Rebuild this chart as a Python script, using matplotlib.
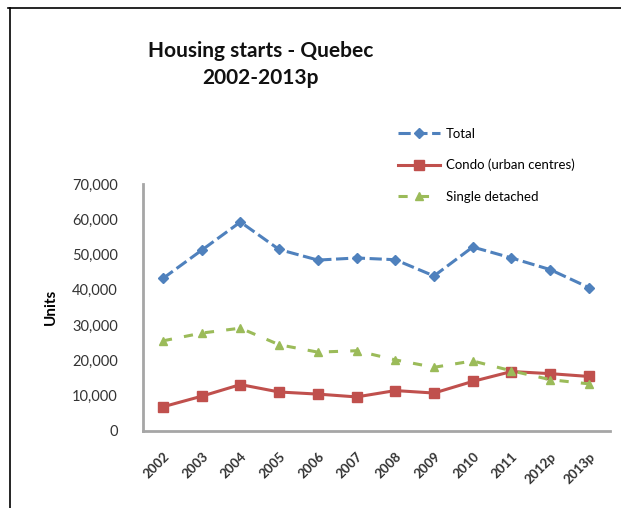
import matplotlib
matplotlib.use("Agg")
import matplotlib.pyplot as plt
from matplotlib.lines import Line2D
from matplotlib.ticker import FuncFormatter

plt.rcParams['font.family'] = ['Lato', 'DejaVu Sans']

years = ["2002", "2003", "2004", "2005", "2006", "2007", "2008", "2009",
         "2010", "2011", "2012p", "2013p"]
total = [43200, 51200, 59200, 51400, 48400, 49000, 48500, 43900, 52100, 49000, 45700, 40600]
condo = [6800, 9800, 13100, 11000, 10400, 9600, 11400, 10700, 14000, 16800, 16200, 15400]
single = [25500, 27700, 29100, 24400, 22300, 22700, 20100, 18000, 19800, 17000, 14500, 13300]
yticks = [0, 10000, 20000, 30000, 40000, 50000, 60000, 70000]

fig = plt.figure(figsize=(6.21, 5.08), dpi=100)
ax = fig.add_axes([0.230, 0.152, 0.752, 0.486])

x = list(range(len(years)))
ax.plot(x, total, color='#4f81bd', lw=2.2, ls=(0, (4, 1.5)), marker='D', ms=5,
        label='Total')
ax.plot(x, condo, color='#c0504d', lw=2.2, ls='-', marker='s', ms=7,
        label='Condo (urban centres)')
ax.plot(x, single, color='#9bbb59', lw=2.2, ls=(0, (3, 4)), marker='^', ms=6,
        label='Single detached')

ax.set_xlim(-0.52, 11.54)
ax.set_ylim(0, 70000)
ax.set_yticks(yticks)
ax.yaxis.set_major_formatter(FuncFormatter(lambda v, p: f"{int(v):,}"))
ax.set_xticks(x)
ax.set_xticklabels(years, rotation=45, ha='right', rotation_mode='anchor',
                   fontsize=9.5, fontweight='bold', color='#333333')
ax.tick_params(axis='y', labelsize=10.5, colors='#333333', length=0, pad=18)
ax.tick_params(axis='x', length=0, pad=14)
for s in ['top', 'right']:
    ax.spines[s].set_visible(False)
for s in ['left', 'bottom']:
    ax.spines[s].set_color('#a6a6a6')
    ax.spines[s].set_linewidth(2)

ax.set_ylabel('Units', fontsize=11, fontweight='bold', labelpad=10)

fig.text(0.419, 0.900, 'Housing starts - Quebec', ha='center', va='center',
         fontsize=15, fontweight='bold', color='#111111')
fig.text(0.419, 0.846, '2002-2013p', ha='center', va='center',
         fontsize=15, fontweight='bold', color='#111111')

leg = fig.legend(loc='upper left', bbox_to_anchor=(0.622, 0.772), frameon=False,
                 fontsize=9.5, handlelength=3.2, labelspacing=1.45, handletextpad=0.4)

fig.add_artist(Line2D([0.013, 1.0], [0.984, 0.984], color='black', lw=1.2,
                      transform=fig.transFigure))
fig.add_artist(Line2D([0.016, 0.016], [0.0, 0.984], color='black', lw=1.2,
                      transform=fig.transFigure))

fig.savefig('out.png', dpi=100)
